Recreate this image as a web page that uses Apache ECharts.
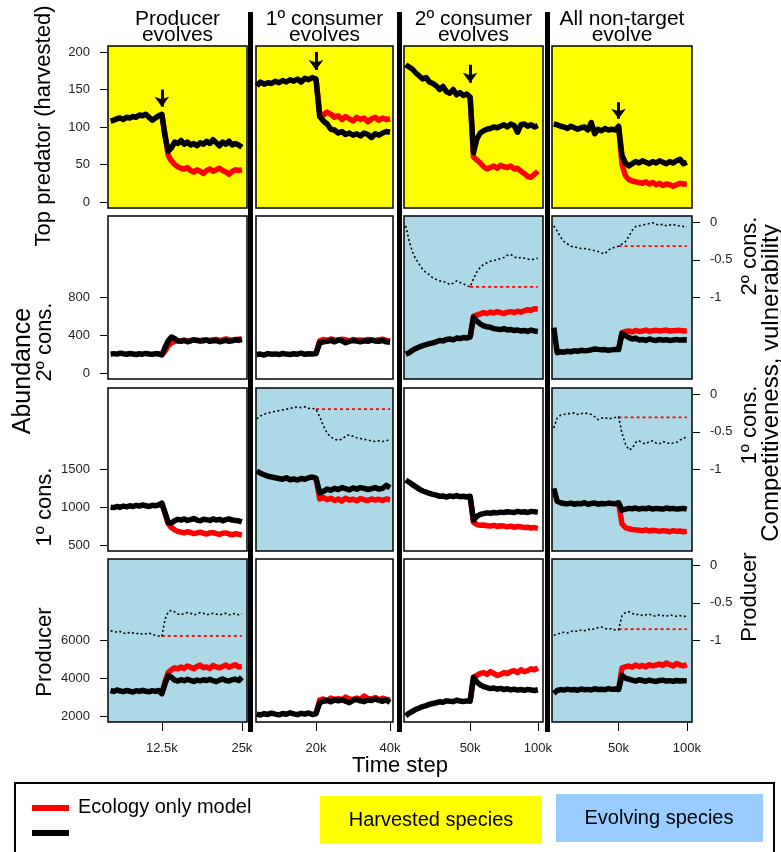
<!DOCTYPE html>
<html>
<head>
<meta charset="utf-8">
<script src="https://cdn.jsdelivr.net/npm/echarts@6/dist/echarts.min.js"></script>
<style>
  html, body { margin: 0; padding: 0; background: #ffffff; }
  #chart { width: 781px; height: 852px; }
</style>
</head>
<body>
<div id="chart"></div>
<script>
// ---------------- time steps per column ----------------
const timeCol1 = [4500, 5000, 5500, 6000, 6500, 7000, 7500, 8000, 8500, 9000, 9500, 10000, 10500, 11000, 11500, 12000,
  12500, 13000, 13500, 14000, 14500, 15000, 15500, 16000, 16500, 17000, 17500, 18000, 18500, 19000, 19500, 20000,
  20500, 21000, 21500, 22000, 22500, 23000, 23500, 24000, 24500, 25000];
const timeCol2 = [4000, 5000, 6000, 7000, 8000, 9000, 10000, 11000, 12000, 13000, 14000, 15000, 16000, 17000, 18000,
  19000, 20000, 21000, 22000, 23000, 24000, 25000, 26000, 27000, 28000, 29000, 30000, 31000, 32000, 33000, 34000,
  35000, 36000, 37000, 38000, 39000, 40000];
const timeCol34 = [2500, 5000, 7500, 10000, 12500, 15000, 17500, 20000, 22500, 25000, 27500, 30000, 32500, 35000,
  37500, 40000, 42500, 45000, 47500, 50000, 52500, 55000, 57500, 60000, 62500, 65000, 67500, 70000, 72500, 75000,
  77500, 80000, 82500, 85000, 87500, 90000, 92500, 95000, 97500, 100000];

// time at which evolution is switched on (red runs start here)
const switchTime = [12500, 20000, 50000, 50000];

// ---------------- top predator (harvested) ----------------
const predC1Black = [108, 109, 111, 112, 110, 113, 112, 114, 113, 116, 115, 117, 113, 109, 112, 115, 117, 88, 68, 72, 80,
  78, 82, 77, 80, 76, 78, 75, 79, 77, 81, 78, 83, 79, 75, 80, 77, 81, 76, 78, 76, 73];
const predC1Red = [117, 90, 62, 55, 50, 47, 45, 44, 46, 42, 40, 43, 41, 38, 42, 44, 41, 43, 45, 42, 40, 37, 41, 43, 42, 43];
const predC2Black = [155, 160, 157, 159, 158, 161, 159, 162, 160, 163, 161, 164, 160, 165, 163, 166, 164, 114, 108, 104,
  97, 96, 92, 94, 90, 92, 89, 91, 88, 92, 90, 86, 91, 89, 92, 94, 93];
const predC2Red = [164, 118, 116, 120, 117, 113, 115, 110, 114, 111, 108, 113, 110, 112, 107, 111, 113, 109, 112, 110, 111];
const predC3Black = [183, 180, 177, 172, 168, 164, 166, 160, 158, 155, 150, 154, 147, 145, 150, 143, 146, 142, 144, 140,
  66, 84, 92, 95, 97, 98, 100, 99, 101, 103, 100, 104, 102, 93, 103, 104, 101, 103, 100, 102];
const predC3Red = [140, 60, 56, 52, 47, 44, 46, 48, 45, 49, 47, 46, 48, 44, 45, 41, 38, 34, 33, 37, 41];
const predC4Black = [104, 103, 101, 100, 98, 101, 99, 97, 99, 100, 96, 106, 91, 97, 95, 98, 96, 97, 96, 101,
  62, 52, 48, 51, 54, 52, 55, 53, 51, 54, 52, 55, 53, 51, 54, 52, 55, 57, 51, 53];
const predC4Red = [101, 50, 35, 30, 28, 27, 26, 25, 27, 24, 26, 23, 25, 22, 24, 23, 21, 23, 25, 24, 24];

// ---------------- secondary consumer ----------------
const secC1Black = [200, 205, 200, 210, 203, 198, 206, 201, 196, 204, 199, 207, 202, 197, 205, 203, 190, 270, 340, 380,
  365, 340, 335, 345, 330, 340, 350, 345, 338, 342, 350, 335, 340, 345, 330, 338, 345, 335, 340, 352, 345, 355];
const secC1Red = [190, 230, 290, 320, 335, 340, 342, 348, 340, 345, 350, 346, 342, 350, 348, 345, 352, 355, 348, 350,
  360, 352, 348, 355, 358, 360];
const secC2Black = [195, 200, 190, 205, 198, 202, 195, 207, 200, 196, 204, 199, 210, 198, 203, 200, 205, 320, 330, 335,
  345, 330, 350, 340, 320, 335, 345, 338, 330, 342, 335, 348, 340, 336, 345, 330, 325];
const secC2Red = [205, 340, 355, 345, 360, 350, 345, 358, 352, 340, 355, 348, 350, 345, 356, 350, 342, 352, 358, 345, 340];
const secC3Black = [200, 215, 240, 260, 275, 290, 300, 310, 320, 330, 345, 340, 355, 360, 350, 370, 365, 375, 370, 380,
  590, 550, 520, 500, 490, 485, 470, 465, 460, 470, 455, 460, 450, 455, 445, 450, 440, 455, 445, 440];
const secC3Red = [380, 600, 615, 625, 640, 630, 645, 635, 650, 640, 630, 645, 650, 640, 655, 645, 660, 670, 665, 680, 675];
const secC4Black = [480, 215, 225, 220, 230, 225, 235, 230, 240, 235, 238, 245, 255, 250, 245, 248, 240, 245, 250, 248,
  420, 395, 375, 360, 370, 350, 355, 345, 360, 350, 345, 355, 348, 352, 345, 350, 355, 348, 352, 350];
const secC4Red = [248, 425, 440, 445, 435, 450, 440, 445, 455, 440, 448, 452, 445, 450, 455, 445, 448, 450, 452, 445, 448];
const secC3Trait = [-0.05, -0.25, -0.40, -0.49, -0.56, -0.63, -0.67, -0.70, -0.74, -0.76, -0.78, -0.79, -0.80, -0.83,
  -0.81, -0.78, -0.80, -0.82, -0.84, -0.86, -0.75, -0.66, -0.60, -0.56, -0.54, -0.52, -0.51, -0.50, -0.48, -0.47,
  -0.44, -0.43, -0.46, -0.48, -0.47, -0.48, -0.49, -0.50, -0.49, -0.48];
const secC4Trait = [-0.05, -0.12, -0.20, -0.26, -0.29, -0.32, -0.33, -0.34, -0.35, -0.35, -0.36, -0.37, -0.38, -0.39,
  -0.41, -0.42, -0.37, -0.35, -0.33, -0.32, -0.29, -0.26, -0.19, -0.11, -0.06, -0.05, -0.04, -0.03, -0.02, -0.01,
  -0.03, -0.04, -0.03, -0.05, -0.04, -0.03, -0.05, -0.05, -0.06, -0.07];
const secC3TraitFixed = -0.86;
const secC4TraitFixed = -0.32;

// ---------------- primary consumer ----------------
const priC1Black = [1000, 995, 1010, 1000, 1015, 1005, 1020, 1010, 1025, 1015, 1030, 1020, 1010, 1025, 1020, 1030, 1055,
  930, 800, 790, 820, 840, 830, 845, 825, 835, 850, 830, 820, 840, 835, 825, 845, 830, 840, 820, 835, 845, 830, 825,
  820, 805];
const priC1Red = [1055, 920, 780, 730, 700, 680, 670, 660, 675, 665, 650, 660, 670, 655, 645, 660, 665, 650, 640, 655,
  660, 645, 635, 650, 640, 630];
const priC2Black = [1480, 1450, 1430, 1410, 1400, 1390, 1380, 1370, 1390, 1365, 1375, 1360, 1380, 1370, 1390, 1400,
  1385, 1190, 1210, 1240, 1225, 1250, 1235, 1260, 1245, 1230, 1255, 1240, 1260, 1250, 1235, 1245, 1260, 1240, 1250,
  1290, 1260];
const priC2Red = [1385, 1110, 1130, 1100, 1120, 1090, 1110, 1080, 1120, 1095, 1105, 1085, 1115, 1100, 1090, 1110, 1095,
  1105, 1090, 1110, 1100];
const priC3Black = [1360, 1330, 1300, 1270, 1240, 1215, 1200, 1185, 1170, 1160, 1145, 1150, 1135, 1150, 1140, 1155, 1140,
  1145, 1135, 1145, 830, 880, 905, 915, 925, 920, 930, 925, 935, 930, 940, 935, 930, 945, 935, 940, 930, 945, 940, 935];
const priC3Red = [1145, 800, 770, 760, 765, 755, 750, 760, 745, 755, 750, 740, 750, 735, 745, 740, 730, 735, 725, 730, 720];
const priC4Black = [1250, 1080, 1060, 1050, 1045, 1055, 1040, 1050, 1045, 1060, 1040, 1050, 1055, 1040, 1050, 1045, 1055,
  1050, 1045, 1060, 960, 975, 985, 980, 990, 975, 985, 980, 990, 975, 985, 980, 975, 990, 980, 985, 975, 980, 985, 975];
const priC4Red = [1060, 780, 730, 715, 705, 700, 695, 690, 700, 685, 695, 690, 680, 690, 685, 675, 690, 680, 685, 675, 680];
const priC2Trait = [-0.33, -0.29, -0.27, -0.25, -0.24, -0.23, -0.22, -0.21, -0.20, -0.19, -0.18, -0.17, -0.18, -0.17,
  -0.19, -0.19, -0.20, -0.30, -0.42, -0.52, -0.57, -0.60, -0.61, -0.60, -0.56, -0.54, -0.56, -0.58, -0.59, -0.60,
  -0.61, -0.62, -0.63, -0.62, -0.63, -0.62, -0.60];
const priC4Trait = [-0.45, -0.32, -0.28, -0.27, -0.26, -0.26, -0.25, -0.27, -0.26, -0.25, -0.26, -0.27, -0.30, -0.34,
  -0.32, -0.31, -0.33, -0.32, -0.31, -0.30, -0.52, -0.66, -0.74, -0.72, -0.64, -0.62, -0.65, -0.66, -0.63, -0.62,
  -0.65, -0.66, -0.63, -0.64, -0.66, -0.65, -0.64, -0.61, -0.59, -0.56];
const priC2TraitFixed = -0.20;
const priC4TraitFixed = -0.31;

// ---------------- producer ----------------
const prodC1Black = [3350, 3300, 3380, 3320, 3290, 3350, 3310, 3270, 3340, 3300, 3360, 3310, 3280, 3340, 3300, 3350, 3180,
  3700, 4150, 4050, 3900, 3850, 3920, 3870, 3950, 3880, 3830, 3900, 3860, 3920, 3880, 3940, 3870, 3820, 3900, 3960,
  3880, 3850, 3920, 3950, 3880, 4050];
const prodC1Red = [3180, 3800, 4300, 4450, 4550, 4500, 4600, 4520, 4650, 4580, 4500, 4620, 4700, 4560, 4600, 4520, 4680,
  4600, 4550, 4620, 4700, 4580, 4650, 4720, 4600, 4620];
const prodC2Black = [2100, 2050, 2120, 2080, 2150, 2100, 2060, 2130, 2090, 2170, 2110, 2070, 2140, 2100, 2160, 2080, 2120,
  2700, 2780, 2820, 2750, 2850, 2800, 2870, 2780, 2700, 2820, 2880, 2800, 2760, 2850, 2820, 2900, 2830, 2780, 2850, 2720];
const prodC2Red = [2120, 2850, 2900, 2820, 2950, 2880, 2920, 2850, 3000, 2900, 2870, 2950, 2880, 3050, 2920, 2900, 2980,
  2870, 2940, 2880, 2850];
const prodC3Black = [2000, 2150, 2250, 2350, 2420, 2500, 2550, 2620, 2660, 2700, 2750, 2730, 2800, 2780, 2760, 2830, 2790,
  2770, 2800, 2780, 4050, 3800, 3650, 3550, 3500, 3450, 3480, 3420, 3460, 3400, 3440, 3380, 3420, 3370, 3400, 3360,
  3410, 3380, 3350, 3390];
const prodC3Red = [2780, 4050, 4150, 4250, 4300, 4200, 4350, 4250, 4150, 4200, 4300, 4250, 4350, 4400, 4300, 4450, 4350,
  4400, 4500, 4450, 4550];
const prodC4Black = [3200, 3350, 3400, 3370, 3420, 3380, 3400, 3360, 3430, 3390, 3410, 3380, 3440, 3400, 3420, 3390, 3450,
  3410, 3430, 3400, 4150, 4000, 3950, 3900, 3850, 3920, 3880, 3840, 3900, 3860, 3830, 3880, 3900, 3850, 3870, 3830,
  3880, 3850, 3870, 3860];
const prodC4Red = [3400, 4550, 4600, 4650, 4580, 4700, 4620, 4680, 4600, 4720, 4650, 4700, 4750, 4680, 4800, 4720, 4650,
  4780, 4700, 4650, 4720];
const prodC1Trait = [-0.87, -0.88, -0.89, -0.88, -0.90, -0.91, -0.89, -0.90, -0.91, -0.90, -0.92, -0.91, -0.90, -0.92,
  -0.93, -0.94, -0.95, -0.72, -0.62, -0.60, -0.62, -0.65, -0.66, -0.64, -0.63, -0.64, -0.66, -0.65, -0.63, -0.64,
  -0.66, -0.65, -0.64, -0.65, -0.66, -0.65, -0.64, -0.66, -0.65, -0.64, -0.66, -0.65];
const prodC4Trait = [-0.93, -0.92, -0.90, -0.89, -0.90, -0.88, -0.87, -0.88, -0.86, -0.87, -0.85, -0.86, -0.84, -0.83,
  -0.82, -0.84, -0.85, -0.84, -0.86, -0.86, -0.67, -0.63, -0.62, -0.64, -0.66, -0.65, -0.67, -0.66, -0.65, -0.67,
  -0.68, -0.66, -0.67, -0.68, -0.66, -0.67, -0.68, -0.67, -0.68, -0.68];
const prodC1TraitFixed = -0.94;
const prodC4TraitFixed = -0.85;

// ---------------- arrows marking the switch (top row) ----------------
const arrowFrom = [150, 200, 183, 133];
const arrowTo = [127, 176, 159, 111];

// ---------------- text and ticks ----------------
const colTitles = [['Producer', 'evolves'], ['1º consumer', 'evolves'], ['2º consumer', 'evolves'], ['All non-target', 'evolve']];
const rowNamesLeft = ['2º cons.', '1º cons.', 'Producer'];
const rowNamesRight = ['2º cons.', '1º cons.', 'Producer'];
const xTickValues = [[12500, 25000], [20000, 40000], [50000, 100000], [50000, 100000]];
const xTickLabels = [['12.5k', '25k'], ['20k', '40k'], ['50k', '100k'], ['50k', '100k']];
const yTickValues = [[0, 50, 100, 150, 200], [0, 400, 800], [500, 1000, 1500], [2000, 4000, 6000]];
const traitTickValues = [0, -0.5, -1];
const traitTickLabels = ['0', '-0.5', '-1'];

// ---------------- panel table ----------------
const times = [timeCol1, timeCol2, timeCol34, timeCol34];
const blackRuns = [
  [predC1Black, predC2Black, predC3Black, predC4Black],
  [secC1Black, secC2Black, secC3Black, secC4Black],
  [priC1Black, priC2Black, priC3Black, priC4Black],
  [prodC1Black, prodC2Black, prodC3Black, prodC4Black]
];
const redRuns = [
  [predC1Red, predC2Red, predC3Red, predC4Red],
  [secC1Red, secC2Red, secC3Red, secC4Red],
  [priC1Red, priC2Red, priC3Red, priC4Red],
  [prodC1Red, prodC2Red, prodC3Red, prodC4Red]
];
const traitRuns = [
  [null, null, null, null],
  [null, null, secC3Trait, secC4Trait],
  [null, priC2Trait, null, priC4Trait],
  [prodC1Trait, null, null, prodC4Trait]
];
const traitFixed = [
  [null, null, null, null],
  [null, null, secC3TraitFixed, secC4TraitFixed],
  [null, priC2TraitFixed, null, priC4TraitFixed],
  [prodC1TraitFixed, null, null, prodC4TraitFixed]
];

// ---------------- layout ----------------
const FONT = '"Liberation Sans", Arial, Helvetica, sans-serif';
const colLeft = [108, 256, 404, 552];
const colWidth = [139, 137, 139, 140];
const rowTop = [46, 216, 388, 559];
const rowHeight = [162, 163, 163, 163];
const xRange = [[4100, 25800], [3800, 40800], [1200, 103800], [1200, 103800]];
const yRange = [[-8, 208], [-64, 1664], [420, 2580], [1680, 10320]];
const traitRange = [-2.08, 0.08];

const grids = [], xAxes = [], yAxes = [], series = [];

for (let r = 0; r < 4; r++) {
  for (let c = 0; c < 4; c++) {
    const idx = r * 4 + c;
    const evolving = traitRuns[r][c] !== null;
    const bg = r === 0 ? '#ffff00' : (evolving ? '#add8e6' : '#ffffff');
    grids.push({
      left: colLeft[c], top: rowTop[r], width: colWidth[c], height: rowHeight[r],
      show: true, backgroundColor: bg, borderColor: '#000', borderWidth: 1.5
    });
    xAxes.push({
      gridIndex: idx, type: 'value', min: xRange[c][0], max: xRange[c][1],
      show: r === 3, position: 'bottom', offset: 1,
      axisLine: { show: false, onZero: false }, splitLine: { show: false },
      axisTick: { show: true, customValues: xTickValues[c], length: 8, lineStyle: { color: '#000', width: 1 } },
      axisLabel: {
        customValues: xTickValues[c], color: '#222', fontSize: 13, fontFamily: FONT, margin: 19,
        formatter: v => xTickLabels[c][xTickValues[c].indexOf(v)]
      }
    });
    yAxes.push({
      gridIndex: idx, type: 'value', min: yRange[r][0], max: yRange[r][1],
      show: c === 0, position: 'left', offset: 1,
      axisLine: { show: false, onZero: false }, splitLine: { show: false },
      axisTick: { show: true, customValues: yTickValues[r], length: 7, lineStyle: { color: '#000', width: 1 } },
      axisLabel: {
        customValues: yTickValues[r], color: '#222', fontSize: 13, fontFamily: FONT, margin: 17,
        formatter: v => String(v)
      }
    });
    yAxes.push({
      gridIndex: idx, type: 'value', min: traitRange[0], max: traitRange[1],
      show: c === 3 && r > 0, position: 'right', offset: 1,
      axisLine: { show: false, onZero: false }, splitLine: { show: false },
      axisTick: { show: true, customValues: traitTickValues, length: 7, lineStyle: { color: '#000', width: 1 } },
      axisLabel: {
        customValues: traitTickValues, color: '#222', fontSize: 13, fontFamily: FONT, margin: 17,
        formatter: v => traitTickLabels[traitTickValues.indexOf(v)]
      }
    });

    const t = times[c];
    const sw = t.indexOf(switchTime[c]);
    const black = blackRuns[r][c].map((v, i) => [t[i], v]);
    const red = redRuns[r][c].map((v, i) => [t[sw + i], v]);

    series.push({
      type: 'line', xAxisIndex: idx, yAxisIndex: 2 * idx, data: red,
      showSymbol: false, silent: true, clip: true, z: 2,
      lineStyle: { color: '#ff0000', width: 5.5, join: 'round' }
    });
    const blackSeries = {
      type: 'line', xAxisIndex: idx, yAxisIndex: 2 * idx, data: black,
      showSymbol: false, silent: true, clip: true, z: 3,
      lineStyle: { color: '#000000', width: 5.5, join: 'round' }
    };
    if (r === 0) {
      blackSeries.markLine = {
        silent: true, symbol: ['none', 'arrow'], symbolSize: [11, 10],
        label: { show: false },
        lineStyle: { color: '#000', width: 3, type: 'solid' },
        data: [[{ coord: [switchTime[c], arrowFrom[c]] }, { coord: [switchTime[c], arrowTo[c]] }]]
      };
    }
    series.push(blackSeries);

    if (evolving) {
      const tail = t[t.length - 1];
      series.push({
        type: 'line', xAxisIndex: idx, yAxisIndex: 2 * idx + 1,
        data: [[switchTime[c], traitFixed[r][c]], [tail, traitFixed[r][c]]],
        showSymbol: false, silent: true, clip: true, z: 4,
        lineStyle: { color: '#ff0000', width: 1.8, type: [3, 3] }
      });
      series.push({
        type: 'line', xAxisIndex: idx, yAxisIndex: 2 * idx + 1,
        data: traitRuns[r][c].map((v, i) => [t[i], v]),
        showSymbol: false, silent: true, clip: true, z: 5,
        lineStyle: { color: '#000000', width: 1.6, type: [2, 2.5] }
      });
    }
  }
}

// ---------------- annotations ----------------
function label(x, y, text, size, rotate, align) {
  return {
    type: 'text', x: x, y: y, rotation: rotate ? Math.PI / 2 : 0, silent: true,
    style: {
      text: text, fontSize: size, fontFamily: FONT, fill: '#000',
      align: align || 'center', verticalAlign: 'middle',
      textAlign: align || 'center', textVerticalAlign: 'middle'
    }
  };
}

const graphics = [];
// column separators
[248, 397, 545].forEach(x => graphics.push({
  type: 'rect', silent: true, shape: { x: x, y: 12, width: 5, height: 720 }, style: { fill: '#000' }
}));
// column titles
const titleCenters = [177.5, 324.5, 473.5, 622];
colTitles.forEach((lines, c) => {
  graphics.push(label(titleCenters[c], 19.5, lines[0], 21, false));
  graphics.push(label(titleCenters[c], 35.5, lines[1], 21, false));
});
// left side names
graphics.push(label(44, 126, 'Top predator (harvested)', 22, true));
graphics.push(label(23, 371, 'Abundance', 25, true));
[342, 507, 652].forEach((y, i) => graphics.push(label(45, y, rowNamesLeft[i], 22, true)));
// right side names
[256, 425, 597].forEach((y, i) => graphics.push(label(750, y, rowNamesRight[i], 22, true)));
graphics.push(label(771, 383, 'Competitiveness, vulnerability', 24, true));
// x title
graphics.push(label(400, 766, 'Time step', 22, false));

// legend panel
graphics.push({ type: 'rect', silent: true, shape: { x: 15, y: 783, width: 759, height: 80 },
  style: { fill: 'none', stroke: '#000', lineWidth: 2 } });
graphics.push({ type: 'rect', silent: true, shape: { x: 32, y: 805, width: 37, height: 6 }, style: { fill: '#ff0000' } });
graphics.push({ type: 'rect', silent: true, shape: { x: 32, y: 830, width: 37, height: 6 }, style: { fill: '#000000' } });
graphics.push(label(78, 807, 'Ecology only model', 20, false, 'left'));
graphics.push({ type: 'rect', silent: true, shape: { x: 320, y: 796, width: 222, height: 47 }, style: { fill: '#ffff00' } });
graphics.push(label(431, 820, 'Harvested species', 20, false));
graphics.push({ type: 'rect', silent: true, shape: { x: 556, y: 794, width: 207, height: 48 }, style: { fill: '#99ccff' } });
graphics.push(label(659, 818, 'Evolving species', 20, false));

const chart = echarts.init(document.getElementById('chart'), null, { renderer: 'canvas' });
chart.setOption({
  animation: false,
  backgroundColor: '#ffffff',
  grid: grids,
  xAxis: xAxes,
  yAxis: yAxes,
  series: series,
  graphic: { elements: graphics }
});
</script>
</body>
</html>
